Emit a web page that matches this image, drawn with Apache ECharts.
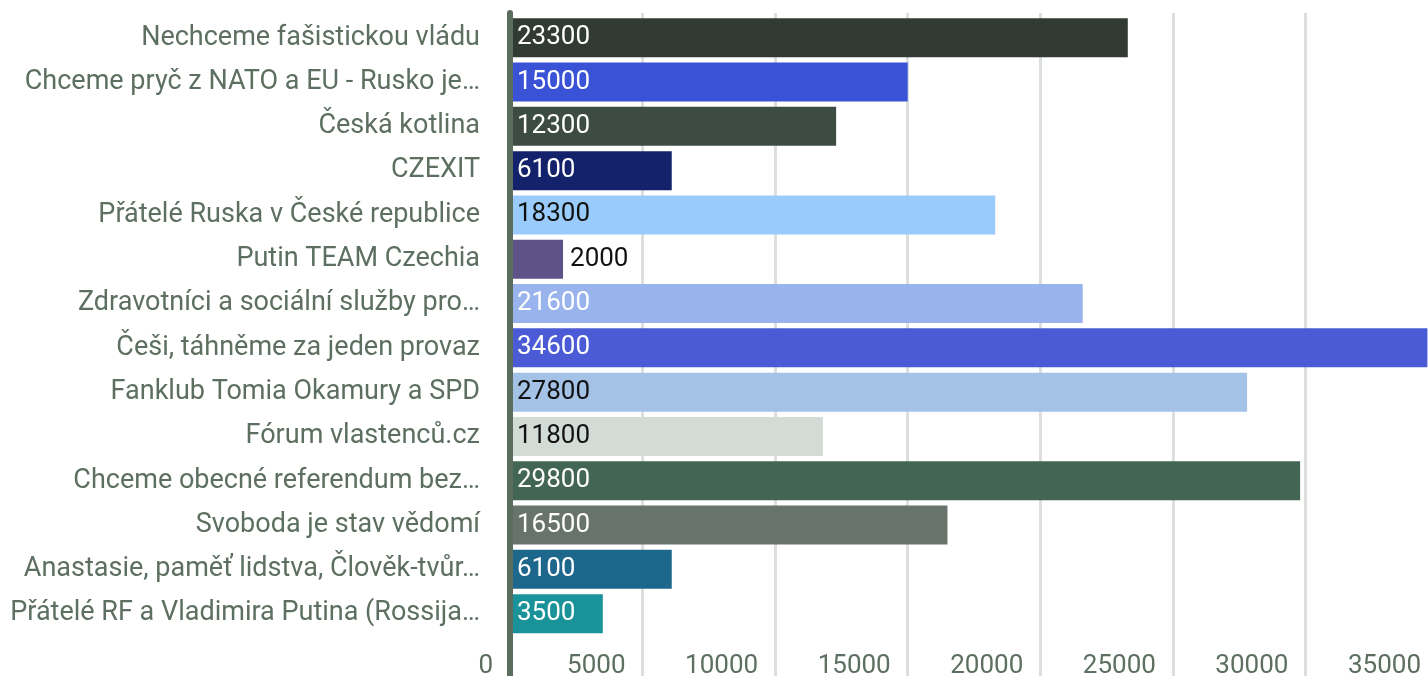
<!DOCTYPE html>
<html>
<head>
<meta charset="utf-8">
<script src="https://cdn.jsdelivr.net/npm/echarts@6/dist/echarts.min.js"></script>
<style>
  html, body { margin: 0; padding: 0; background: #fff; }
  #box { width: 1428px; height: 676px; }
</style>
</head>
<body>
<div id="box"></div>
<script>
// skupiny a počty členů
const groups = [
  'Nechceme fašistickou vládu',
  'Chceme pryč z NATO a EU - Rusko je…',
  'Česká kotlina',
  'CZEXIT',
  'Přátelé Ruska v České republice',
  'Putin TEAM Czechia',
  'Zdravotníci a sociální služby pro…',
  'Češi, táhněme za jeden provaz',
  'Fanklub Tomia Okamury a SPD',
  'Fórum vlastenců.cz',
  'Chceme obecné referendum bez…',
  'Svoboda je stav vědomí',
  'Anastasie, paměť lidstva, Člověk-tvůr…',
  'Přátelé RF a Vladimira Putina (Rossija…'
]
const members = [23300, 15000, 12300, 6100, 18300, 2000, 21600, 34600, 27800, 11800, 29800, 16500, 6100, 3500]
const xTicks = [0, 5000, 10000, 15000, 20000, 25000, 30000, 35000]

const barColors = ['#323b33', '#3a52d6', '#3d4c42', '#13226b', '#99ccfd', '#5f5289', '#99b3ec',
  '#4a5bd5', '#a3c2e6', '#d2dbd6', '#436654', '#68746b', '#1e678c', '#1a9299']
const darkText = [4, 5, 8, 9]  // světlé sloupce -> černý popisek

const font = 'Roboto'
const grey = '#5d6f60'
const xMin = xTicks[0]
const xMax = xTicks[xTicks.length - 1]
const step = xTicks[1] - xTicks[0]

const chart = echarts.init(document.getElementById('box'))
chart.setOption({
  animation: false,
  grid: [
    { left: 510, right: -10, top: 15.6, bottom: 40.2, outerBoundsMode: 'none', containLabel: false },
    { left: 510, right: -10, top: 13, bottom: 0, outerBoundsMode: 'none', containLabel: false }
  ],
  xAxis: [
    {
      gridIndex: 0, type: 'value', min: xMin, max: xMax, interval: step,
      axisLine: { show: false }, axisTick: { show: false }, splitLine: { show: false },
      axisLabel: {
        color: grey, fontFamily: font, fontSize: 26, margin: 18,
        align: 'right', padding: [0, 17, 0, 0],
        formatter: v => String(v)
      }
    },
    {
      gridIndex: 1, type: 'value', min: xMin, max: xMax, interval: step,
      axisLine: { show: false }, axisTick: { show: false }, axisLabel: { show: false },
      splitLine: { show: true, lineStyle: { color: '#dcdfdd', width: 3 } }
    }
  ],
  yAxis: [
    {
      gridIndex: 0, type: 'category', data: groups, inverse: true,
      axisLine: { show: false }, axisTick: { show: false },
      axisLabel: { color: grey, fontFamily: font, fontSize: 27, margin: 30 }
    },
    {
      gridIndex: 1, type: 'value', offset: 2, z: 10,
      axisLabel: { show: false }, axisTick: { show: false }, splitLine: { show: false },
      axisLine: { show: true, lineStyle: { color: '#5b6d5e', width: 6 } }
    }
  ],
  series: [{
    type: 'bar',
    xAxisIndex: 0,
    yAxisIndex: 0,
    barCategoryGap: '12%',
    data: members.map((v, i) => {
      const outside = i === 5
      return {
        value: v,
        itemStyle: { color: barColors[i] },
        label: {
          position: outside ? 'right' : 'insideLeft',
          color: darkText.includes(i) ? '#111' : '#fff'
        }
      }
    }),
    label: {
      show: true, distance: 7, fontFamily: font, fontSize: 26
    }
  }]
})
</script>
</body>
</html>
